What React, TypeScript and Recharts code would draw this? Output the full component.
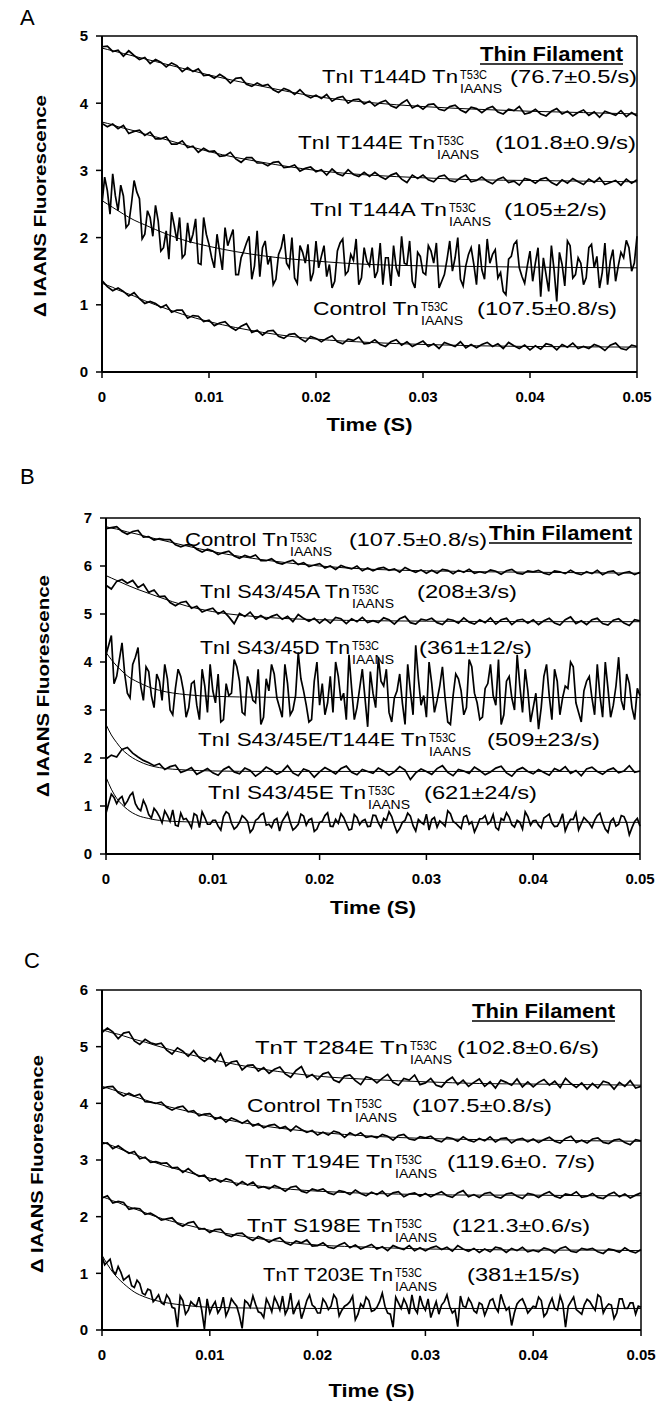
import React from "react";
import { LineChart, Line, XAxis, YAxis, ReferenceLine } from "recharts";

const FONT = '"Liberation Sans", Arial, sans-serif';

// sampling times of the traces (s)
const TIME = [
  0, 0.0005, 0.001, 0.0015, 0.002, 0.0025, 0.003, 0.0035, 0.004, 0.0045,
  0.005, 0.0055, 0.006, 0.0065, 0.007, 0.0075, 0.008, 0.0085, 0.009, 0.0095,
  0.01, 0.0105, 0.011, 0.0115, 0.012, 0.0125, 0.013, 0.0135, 0.014, 0.0145,
  0.015, 0.0155, 0.016, 0.0165, 0.017, 0.0175, 0.018, 0.0185, 0.019, 0.0195,
  0.02, 0.0205, 0.021, 0.0215, 0.022, 0.0225, 0.023, 0.0235, 0.024, 0.0245,
  0.025, 0.0255, 0.026, 0.0265, 0.027, 0.0275, 0.028, 0.0285, 0.029, 0.0295,
  0.03, 0.0305, 0.031, 0.0315, 0.032, 0.0325, 0.033, 0.0335, 0.034, 0.0345,
  0.035, 0.0355, 0.036, 0.0365, 0.037, 0.0375, 0.038, 0.0385, 0.039, 0.0395,
  0.04, 0.0405, 0.041, 0.0415, 0.042, 0.0425, 0.043, 0.0435, 0.044, 0.0445,
  0.045, 0.0455, 0.046, 0.0465, 0.047, 0.0475, 0.048, 0.0485, 0.049, 0.0495,
  0.05,
];
// extra in-between samples for the noisiest traces
const TIME_MID = [
  0.00025, 0.00075, 0.00125, 0.00175, 0.00225, 0.00275, 0.00325, 0.00375, 0.00425, 0.00475,
  0.00525, 0.00575, 0.00625, 0.00675, 0.00725, 0.00775, 0.00825, 0.00875, 0.00925, 0.00975,
  0.01025, 0.01075, 0.01125, 0.01175, 0.01225, 0.01275, 0.01325, 0.01375, 0.01425, 0.01475,
  0.01525, 0.01575, 0.01625, 0.01675, 0.01725, 0.01775, 0.01825, 0.01875, 0.01925, 0.01975,
  0.02025, 0.02075, 0.02125, 0.02175, 0.02225, 0.02275, 0.02325, 0.02375, 0.02425, 0.02475,
  0.02525, 0.02575, 0.02625, 0.02675, 0.02725, 0.02775, 0.02825, 0.02875, 0.02925, 0.02975,
  0.03025, 0.03075, 0.03125, 0.03175, 0.03225, 0.03275, 0.03325, 0.03375, 0.03425, 0.03475,
  0.03525, 0.03575, 0.03625, 0.03675, 0.03725, 0.03775, 0.03825, 0.03875, 0.03925, 0.03975,
  0.04025, 0.04075, 0.04125, 0.04175, 0.04225, 0.04275, 0.04325, 0.04375, 0.04425, 0.04475,
  0.04525, 0.04575, 0.04625, 0.04675, 0.04725, 0.04775, 0.04825, 0.04875, 0.04925, 0.04975,
];
const FIT_TIME = [
  0, 0.0005, 0.001, 0.0015, 0.002, 0.003, 0.004, 0.005, 0.0075, 0.01, 0.015,
  0.02, 0.025, 0.03, 0.035, 0.04, 0.045, 0.05,
];
const X_TICKS = [0, 0.01, 0.02, 0.03, 0.04, 0.05];
const A_TICKS = [0, 1, 2, 3, 4, 5];
const B_TICKS = [0, 1, 2, 3, 4, 5, 6, 7];
const C_TICKS = [0, 1, 2, 3, 4, 5, 6];

// ---- panel A ----
const A_T144D = [
  4.84, 4.85, 4.77, 4.79, 4.7, 4.78, 4.71, 4.65, 4.68, 4.59, 4.65,
  4.61, 4.54, 4.6, 4.56, 4.47, 4.53, 4.47, 4.51, 4.41, 4.42,
  4.37, 4.43, 4.38, 4.3, 4.37, 4.38, 4.28, 4.25, 4.3, 4.26,
  4.28, 4.2, 4.16, 4.22, 4.19, 4.13, 4.2, 4.12, 4.08, 4.12,
  4.07, 4.13, 4.03, 4.08, 4.1, 4.0, 4.05, 4.06, 3.99, 4.03,
  3.96, 4.01, 4.04, 3.96, 3.93, 4.0, 4.05, 3.93, 3.97, 3.91,
  3.98, 3.99, 3.91, 3.89, 3.95, 3.97, 3.9, 3.86, 3.94, 3.92,
  3.86, 3.92, 3.95, 3.87, 3.84, 3.91, 3.89, 3.95, 3.84, 3.86,
  3.91, 3.84, 3.81, 3.88, 3.92, 3.84, 3.88, 3.81, 3.86, 3.9,
  3.82, 3.87, 3.79, 3.88, 3.85, 3.82, 3.89, 3.8, 3.86, 3.81,
];
const A_T144E = [
  3.7, 3.65, 3.69, 3.62, 3.67, 3.55, 3.58, 3.6, 3.52, 3.57, 3.47,
  3.47, 3.5, 3.39, 3.39, 3.44, 3.34, 3.36, 3.27, 3.33, 3.28,
  3.29, 3.21, 3.22, 3.27, 3.17, 3.12, 3.19, 3.19, 3.11, 3.11,
  3.07, 3.12, 3.13, 3.04, 3.05, 3.08, 2.99, 3.03, 3.05, 2.98,
  3.01, 2.93, 3.02, 2.95, 2.92, 3.01, 2.94, 2.91, 2.97, 2.91,
  2.97, 2.91, 2.87, 2.93, 2.96, 2.87, 2.82, 2.93, 2.88, 2.93,
  2.86, 2.83, 2.91, 2.93, 2.85, 2.83, 2.89, 2.93, 2.83, 2.85,
  2.9, 2.84, 2.8, 2.87, 2.9, 2.82, 2.84, 2.78, 2.88, 2.86,
  2.81, 2.87, 2.89, 2.82, 2.78, 2.86, 2.81, 2.88, 2.83, 2.79,
  2.87, 2.82, 2.89, 2.79, 2.82, 2.85, 2.78, 2.87, 2.81, 2.86,
];
const A_T144A = [
  2.5, 2.7, 2.95, 2.4, 2.62, 2.2, 2.85, 2.58, 2.05, 2.3, 2.48,
  1.8, 2.1, 2.38, 1.95, 1.7, 2.22, 2.05, 1.62, 2.3, 1.9,
  1.55, 1.78, 2.15, 2.0, 1.45, 1.7, 1.92, 1.38, 2.1, 1.85,
  1.6, 1.3, 1.75, 2.05, 1.55, 1.4, 1.88, 1.62, 1.35, 1.95,
  1.72, 1.42, 1.25, 1.8, 1.98, 1.5, 1.66, 1.3, 1.85, 1.58,
  1.4, 1.92, 1.7, 1.28, 1.55, 2.02, 1.6, 1.35, 1.78, 1.48,
  1.88, 1.62, 1.25, 1.45, 1.95, 1.7, 1.38, 1.58, 1.85, 1.3,
  1.52, 1.98, 1.75, 1.4, 1.2, 1.68, 1.9, 1.55, 1.32, 1.8,
  1.62, 1.12, 1.45, 1.88, 1.05, 1.6, 1.95, 1.4, 1.7, 1.3,
  1.85, 1.55, 1.25, 1.92, 1.65, 1.35, 1.78, 1.96, 1.5, 2.02,
];
const A_T144A_MID = [
  2.9, 2.35, 2.62, 2.78, 2.15, 2.5, 2.68, 1.98, 2.4, 2.02,
  2.25, 1.85, 1.68, 2.18, 2.3, 1.75, 1.92, 2.28, 1.6, 2.05,
  1.7, 2.05, 1.52, 1.88, 2.12, 1.45, 1.8, 2.02, 1.58, 1.42,
  1.95, 1.72, 1.38, 1.85, 1.62, 2.0, 1.32, 1.78, 1.9, 1.48,
  1.55, 1.88, 1.6, 1.35, 1.92, 1.45, 1.75, 1.98, 1.4, 1.65,
  1.85, 1.5, 1.3, 1.7, 1.88, 1.42, 1.62, 1.95, 1.25, 1.72,
  1.45, 1.8, 1.92, 1.35, 1.68, 1.5, 2.0, 1.28, 1.75, 1.6,
  1.9, 1.38, 1.62, 1.82, 1.48, 1.15, 1.72, 1.95, 1.42, 1.58,
  1.35, 1.85, 1.7, 1.2, 1.52, 1.78, 1.28, 1.88, 1.45, 1.62,
  1.4, 1.9, 1.72, 1.48, 1.3, 1.82, 1.58, 1.7, 1.85, 1.62,
];
const A_CONTROL = [
  1.36, 1.27, 1.21, 1.25, 1.2, 1.13, 1.18, 1.09, 1.02, 1.05, 1.02,
  0.96, 1.0, 0.89, 0.92, 0.92, 0.8, 0.84, 0.83, 0.75, 0.77,
  0.69, 0.73, 0.75, 0.67, 0.62, 0.68, 0.72, 0.59, 0.62, 0.55,
  0.61, 0.62, 0.53, 0.5, 0.56, 0.57, 0.5, 0.45, 0.53, 0.5,
  0.45, 0.5, 0.54, 0.45, 0.42, 0.49, 0.47, 0.52, 0.42, 0.43,
  0.48, 0.41, 0.38, 0.45, 0.48, 0.4, 0.45, 0.38, 0.42, 0.46,
  0.38, 0.42, 0.35, 0.44, 0.41, 0.38, 0.45, 0.36, 0.41, 0.36,
  0.41, 0.44, 0.38, 0.42, 0.35, 0.44, 0.39, 0.35, 0.4, 0.33,
  0.39, 0.34, 0.42, 0.4, 0.33, 0.41, 0.37, 0.43, 0.35, 0.38,
  0.35, 0.41, 0.38, 0.32, 0.4, 0.43, 0.35, 0.33, 0.4, 0.38,
];
const A_T144D_FIT = [4.82, 4.8, 4.78, 4.76, 4.74, 4.7, 4.66, 4.62, 4.52, 4.42, 4.25, 4.1, 4.01, 3.95, 3.91, 3.88, 3.86, 3.84];
const A_T144E_FIT = [3.72, 3.7, 3.68, 3.65, 3.63, 3.59, 3.54, 3.5, 3.39, 3.28, 3.12, 3.0, 2.93, 2.89, 2.86, 2.85, 2.84, 2.83];
const A_T144A_FIT = [2.55, 2.5, 2.45, 2.4, 2.35, 2.26, 2.19, 2.12, 1.97, 1.87, 1.73, 1.65, 1.6, 1.58, 1.57, 1.56, 1.555, 1.55];
const A_CONTROL_FIT = [1.32, 1.29, 1.26, 1.22, 1.19, 1.13, 1.06, 1.0, 0.86, 0.75, 0.59, 0.49, 0.44, 0.41, 0.39, 0.38, 0.375, 0.37];

// ---- panel B ----
const B_CONTROL = [
  6.78, 6.8, 6.82, 6.72, 6.66, 6.72, 6.74, 6.6, 6.61, 6.54, 6.57,
  6.55, 6.55, 6.44, 6.4, 6.44, 6.44, 6.35, 6.29, 6.35, 6.31,
  6.24, 6.28, 6.31, 6.21, 6.16, 6.22, 6.18, 6.23, 6.11, 6.11,
  6.15, 6.07, 6.04, 6.09, 6.12, 6.03, 6.07, 5.99, 6.02, 6.05,
  5.96, 6.0, 5.93, 6.01, 5.97, 5.94, 6.0, 5.9, 5.96, 5.9,
  5.95, 5.97, 5.91, 5.94, 5.87, 5.97, 5.91, 5.87, 5.92, 5.85,
  5.91, 5.85, 5.93, 5.91, 5.84, 5.91, 5.87, 5.93, 5.85, 5.88,
  5.85, 5.92, 5.89, 5.83, 5.9, 5.93, 5.85, 5.83, 5.9, 5.88,
  5.91, 5.85, 5.82, 5.9, 5.88, 5.84, 5.91, 5.85, 5.82, 5.88,
  5.84, 5.91, 5.82, 5.88, 5.9, 5.81, 5.86, 5.88, 5.82, 5.87,
];
const B_S4345A = [
  5.6, 5.52, 5.68, 5.72, 5.64, 5.7, 5.55, 5.62, 5.45, 5.5, 5.36,
  5.37, 5.24, 5.17, 5.24, 5.26, 5.12, 5.16, 5.04, 5.09, 5.12,
  5.0, 5.06, 4.94, 4.8, 5.01, 4.95, 5.04, 4.9, 4.97, 4.89,
  4.95, 4.99, 4.89, 4.95, 4.84, 4.99, 4.91, 4.85, 4.91, 4.81,
  4.9, 4.81, 4.93, 4.9, 4.8, 4.9, 4.84, 4.93, 4.82, 4.86,
  4.82, 4.92, 4.88, 4.79, 4.9, 4.95, 4.82, 4.79, 4.89, 4.87,
  4.91, 4.82, 4.78, 4.89, 4.87, 4.81, 4.92, 4.83, 4.79, 4.88,
  4.82, 4.92, 4.79, 4.88, 4.91, 4.78, 4.87, 4.89, 4.81, 4.88,
  4.78, 4.86, 4.91, 4.81, 4.77, 4.88, 4.94, 4.8, 4.86, 4.78,
  4.88, 4.91, 4.8, 4.77, 4.87, 4.9, 4.81, 4.76, 4.88, 4.86,
];
const B_S4345D = [
  4.15, 4.55, 3.7, 4.4, 3.35, 3.95, 4.3, 3.2, 3.8, 3.05, 3.6,
  3.95, 3.0, 3.45, 3.7, 2.85, 3.55, 3.1, 3.85, 2.95, 3.4,
  3.75, 2.8, 3.3, 4.05, 3.6, 2.9, 3.5, 3.15, 2.7, 3.65,
  3.95, 3.25, 2.85, 3.55, 3.0, 4.2, 3.4, 2.75, 3.6, 3.1,
  2.9, 3.7, 4.0, 3.2, 2.8, 3.45, 3.05, 3.85, 2.65, 3.35,
  4.1, 3.5, 2.95, 3.25, 3.75, 2.7, 3.4, 4.35, 3.1, 2.85,
  3.55, 3.2, 3.9, 2.75, 3.3, 3.65, 2.9, 4.05, 3.35, 2.8,
  3.45, 3.95, 3.1, 2.7, 3.6, 3.25, 4.15, 2.95, 3.4, 3.05,
  2.6, 3.7, 3.3, 3.85, 2.9, 3.5, 4.0, 3.15, 2.75, 3.6,
  3.25, 3.95, 2.85, 3.45, 3.1, 4.1, 3.0, 3.55, 2.8, 3.3,
];
const B_S4345D_MID = [
  4.35, 3.55, 4.05, 3.75, 3.25, 4.1, 3.5, 3.9, 3.3, 3.75,
  3.2, 3.65, 2.9, 3.85, 3.4, 3.05, 3.6, 2.8, 3.5, 3.95,
  3.15, 2.75, 3.55, 3.35, 3.9, 2.95, 3.7, 3.2, 3.85, 2.85,
  3.4, 3.75, 3.05, 3.95, 2.9, 3.3, 3.65, 3.1, 2.8, 4.0,
  3.55, 3.15, 2.95, 3.7, 3.35, 4.15, 2.8, 3.45, 3.25, 3.8,
  3.05, 3.6, 3.85, 2.75, 3.4, 3.15, 3.95, 2.9, 3.65, 3.3,
  4.0, 2.95, 3.5, 3.25, 2.7, 3.75, 3.4, 3.05, 3.9, 3.15,
  2.85, 3.55, 3.3, 4.05, 2.9, 3.7, 3.0, 3.5, 3.85, 2.75,
  3.35, 3.05, 3.95, 2.8, 3.6, 3.25, 3.45, 3.9, 2.95, 3.4,
  3.7, 2.9, 3.3, 4.0, 2.85, 3.5, 3.2, 3.75, 3.05, 3.45,
];
const B_S4345E_T144E = [
  1.98, 2.06, 2.02, 2.18, 2.22, 2.1, 2.02, 1.95, 1.9, 1.84, 1.88,
  1.76, 1.82, 1.85, 1.7, 1.74, 1.8, 1.66, 1.72, 1.78, 1.69,
  1.64, 1.76, 1.82, 1.71, 1.67, 1.79, 1.74, 1.62, 1.7, 1.81,
  1.75, 1.66, 1.72, 1.84, 1.69, 1.63, 1.77, 1.73, 1.6, 1.71,
  1.8, 1.74, 1.67, 1.78, 1.83, 1.7, 1.65, 1.76, 1.72, 1.68,
  1.79, 1.73, 1.64, 1.71, 1.82, 1.75, 1.55, 1.69, 1.77, 1.72,
  1.66, 1.78, 1.84, 1.7, 1.63, 1.76, 1.73, 1.68, 1.81, 1.74,
  1.65, 1.71, 1.79, 1.83, 1.69, 1.62, 1.75, 1.8, 1.72, 1.67,
  1.76, 1.7, 1.64, 1.78, 1.73, 1.82, 1.68, 1.74, 1.63, 1.77,
  1.81, 1.72, 1.66, 1.75, 1.79, 1.69, 1.73, 1.84, 1.7, 1.73,
];
const B_S4345E = [
  0.85, 1.25, 1.05, 1.2, 1.1, 1.28, 0.95, 1.12, 0.82, 0.95, 0.78,
  0.9, 0.68, 0.6, 0.85, 0.74, 0.55, 0.8, 0.88, 0.62, 0.7,
  0.58, 0.78, 0.84, 0.52, 0.66, 0.75, 0.45, 0.7, 0.82, 0.6,
  0.55, 0.74, 0.68, 0.86, 0.5, 0.62, 0.79, 0.71, 0.47, 0.66,
  0.8, 0.58, 0.72, 0.84, 0.63, 0.52, 0.76, 0.69, 0.57, 0.81,
  0.65, 0.74, 0.88, 0.6, 0.53, 0.7, 0.79, 0.48, 0.66, 0.83,
  0.72, 0.56, 0.64, 0.9, 0.68, 0.58, 0.77, 0.62, 0.46, 0.73,
  0.8, 0.67, 0.55, 0.74, 0.86, 0.61, 0.7, 0.52, 0.78, 0.69,
  0.6, 0.75, 0.83, 0.57, 0.68, 0.48, 0.72, 0.86, 0.63, 0.7,
  0.55, 0.8, 0.66, 0.45, 0.74, 0.62, 0.78, 0.4, 0.68, 0.58,
];
const B_S4345E_MID = [
  1.05, 1.18, 1.15, 1.02, 1.22, 1.05, 0.9, 1.0, 0.75, 0.88,
  0.65, 0.8, 0.92, 0.58, 0.72, 0.66, 0.84, 0.55, 0.76, 0.62,
  0.7, 0.5, 0.88, 0.64, 0.57, 0.8, 0.68, 0.52, 0.74, 0.85,
  0.62, 0.7, 0.48, 0.77, 0.66, 0.55, 0.83, 0.6, 0.74, 0.52,
  0.68, 0.86, 0.57, 0.64, 0.76, 0.5, 0.82, 0.61, 0.72, 0.58,
  0.8, 0.55, 0.7, 0.78, 0.45, 0.66, 0.85, 0.59, 0.72, 0.62,
  0.5, 0.76, 0.69, 0.58, 0.84, 0.64, 0.53, 0.8, 0.67, 0.58,
  0.74, 0.62, 0.82, 0.5, 0.7, 0.77, 0.56, 0.66, 0.88, 0.6,
  0.7, 0.54, 0.79, 0.65, 0.58, 0.84, 0.62, 0.72, 0.5, 0.76,
  0.64, 0.7, 0.85, 0.52, 0.68, 0.58, 0.8, 0.65, 0.55, 0.74,
];
const B_CONTROL_FIT = [6.82, 6.79, 6.77, 6.74, 6.71, 6.66, 6.6, 6.55, 6.42, 6.3, 6.12, 6.0, 5.93, 5.9, 5.88, 5.87, 5.86, 5.85];
const B_S4345A_FIT = [5.8, 5.75, 5.7, 5.65, 5.6, 5.51, 5.43, 5.35, 5.17, 5.05, 4.93, 4.88, 4.86, 4.85, 4.845, 4.84, 4.84, 4.84];
const B_S4345D_FIT = [4.2, 4.05, 3.92, 3.81, 3.71, 3.58, 3.48, 3.41, 3.32, 3.285, 3.265, 3.26, 3.26, 3.26, 3.26, 3.26, 3.26, 3.26];
const B_S4345E_T144E_FIT = [2.7, 2.48, 2.32, 2.18, 2.08, 1.94, 1.85, 1.8, 1.75, 1.73, 1.72, 1.72, 1.72, 1.72, 1.72, 1.72, 1.72, 1.72];
const B_S4345E_FIT = [1.6, 1.35, 1.16, 1.03, 0.93, 0.8, 0.74, 0.7, 0.67, 0.66, 0.66, 0.66, 0.66, 0.66, 0.66, 0.66, 0.66, 0.66];

// ---- panel C ----
const C_T284E = [
  5.25, 5.33, 5.26, 5.14, 5.24, 5.26, 5.1, 5.04, 5.13, 5.07, 5.04,
  5.06, 4.94, 4.87, 4.98, 4.92, 4.83, 4.93, 4.81, 4.74, 4.81,
  4.73, 4.88, 4.66, 4.73, 4.75, 4.59, 4.67, 4.68, 4.57, 4.63,
  4.53, 4.6, 4.64, 4.52, 4.46, 4.58, 4.65, 4.46, 4.51, 4.42,
  4.52, 4.55, 4.41, 4.37, 4.48, 4.5, 4.4, 4.33, 4.47, 4.44,
  4.36, 4.44, 4.51, 4.37, 4.32, 4.44, 4.41, 4.5, 4.33, 4.36,
  4.44, 4.32, 4.29, 4.4, 4.46, 4.33, 4.41, 4.3, 4.37, 4.43,
  4.3, 4.38, 4.27, 4.41, 4.37, 4.32, 4.43, 4.29, 4.38, 4.29,
  4.37, 4.42, 4.32, 4.39, 4.28, 4.44, 4.35, 4.28, 4.36, 4.25,
  4.35, 4.27, 4.39, 4.36, 4.25, 4.37, 4.3, 4.4, 4.27, 4.3,
];
const C_CONTROL = [
  4.26, 4.29, 4.3, 4.19, 4.13, 4.18, 4.13, 4.16, 4.03, 4.02, 4.0,
  4.02, 3.93, 3.88, 3.93, 3.95, 3.85, 3.87, 3.78, 3.81, 3.82,
  3.72, 3.76, 3.67, 3.74, 3.7, 3.65, 3.7, 3.6, 3.64, 3.57,
  3.61, 3.63, 3.56, 3.59, 3.51, 3.6, 3.54, 3.49, 3.52, 3.44,
  3.49, 3.44, 3.51, 3.48, 3.4, 3.48, 3.43, 3.48, 3.4, 3.42,
  3.39, 3.45, 3.42, 3.35, 3.43, 3.45, 3.37, 3.35, 3.41, 3.39,
  3.42, 3.35, 3.32, 3.4, 3.38, 3.33, 3.41, 3.35, 3.32, 3.38,
  3.34, 3.41, 3.32, 3.38, 3.39, 3.3, 3.36, 3.38, 3.32, 3.37,
  3.31, 3.36, 3.4, 3.33, 3.3, 3.38, 3.42, 3.31, 3.35, 3.3,
  3.37, 3.39, 3.31, 3.29, 3.35, 3.37, 3.31, 3.27, 3.36, 3.34,
];
const C_T194E = [
  3.29, 3.3, 3.2, 3.25, 3.18, 3.12, 3.15, 3.02, 3.05, 2.96, 2.97,
  2.94, 2.95, 2.86, 2.87, 2.78, 2.85, 2.77, 2.71, 2.73, 2.63,
  2.67, 2.61, 2.67, 2.64, 2.55, 2.62, 2.56, 2.61, 2.51, 2.53,
  2.49, 2.55, 2.51, 2.45, 2.52, 2.54, 2.45, 2.42, 2.49, 2.46,
  2.49, 2.42, 2.39, 2.46, 2.44, 2.39, 2.47, 2.41, 2.37, 2.43,
  2.39, 2.45, 2.36, 2.42, 2.44, 2.35, 2.4, 2.42, 2.36, 2.41,
  2.35, 2.4, 2.44, 2.37, 2.34, 2.42, 2.46, 2.35, 2.39, 2.34,
  2.41, 2.43, 2.35, 2.33, 2.4, 2.42, 2.36, 2.32, 2.41, 2.39,
  2.34, 2.4, 2.44, 2.36, 2.33, 2.4, 2.38, 2.44, 2.34, 2.36,
  2.41, 2.34, 2.32, 2.39, 2.43, 2.35, 2.4, 2.33, 2.38, 2.42,
];
const C_S198E = [
  2.33, 2.37, 2.24, 2.27, 2.25, 2.13, 2.15, 2.14, 2.04, 2.06, 2.01,
  1.94, 1.96, 1.98, 1.88, 1.83, 1.89, 1.91, 1.78, 1.79, 1.72,
  1.77, 1.78, 1.68, 1.65, 1.7, 1.71, 1.63, 1.58, 1.65, 1.61,
  1.55, 1.6, 1.63, 1.54, 1.5, 1.57, 1.54, 1.59, 1.48, 1.49,
  1.54, 1.46, 1.44, 1.5, 1.54, 1.45, 1.5, 1.43, 1.47, 1.51,
  1.43, 1.47, 1.4, 1.49, 1.45, 1.42, 1.49, 1.4, 1.45, 1.4,
  1.45, 1.48, 1.42, 1.46, 1.39, 1.49, 1.43, 1.39, 1.44, 1.37,
  1.43, 1.38, 1.46, 1.44, 1.37, 1.44, 1.4, 1.46, 1.38, 1.41,
  1.38, 1.45, 1.42, 1.36, 1.44, 1.47, 1.39, 1.37, 1.44, 1.42,
  1.44, 1.38, 1.35, 1.43, 1.41, 1.37, 1.45, 1.39, 1.36, 1.42,
];
const C_T203E = [
  1.3, 1.2, 1.05, 1.12, 0.88, 0.96, 0.75, 0.82, 0.62, 0.7, 0.55,
  0.48, 0.62, 0.4, 0.05, 0.52, 0.35, 0.45, 0.58, 0.02, 0.3,
  0.5, 0.38, 0.25, 0.55, 0.42, 0.03, 0.48, 0.6, 0.32, 0.22,
  0.45, 0.58, 0.35, 0.28, 0.65, 0.4, 0.2, 0.52, 0.44, 0.3,
  0.55, 0.36, 0.62, 0.25, 0.42, 0.5, 0.18, 0.46, 0.58, 0.33,
  0.4, 0.65, 0.3, 0.05, 0.48, 0.55, 0.28, 0.38, 0.6, 0.35,
  0.22, 0.5, 0.44, 0.62, 0.3, 0.06, 0.42, 0.56, 0.34, 0.48,
  0.26, 0.52, 0.4, 0.63, 0.35, 0.08, 0.46, 0.55, 0.3, 0.42,
  0.58, 0.24, 0.45, 0.38, 0.6, 0.05, 0.5, 0.36, 0.28, 0.54,
  0.42, 0.62, 0.3, 0.46, 0.2, 0.55, 0.38, 0.48, 0.28, 0.4,
];
const C_T203E_MID = [
  1.15, 1.25, 0.98, 1.02, 0.92, 0.78, 0.88, 0.65, 0.72, 0.5,
  0.62, 0.45, 0.55, 0.38, 0.6, 0.28, 0.5, 0.42, 0.35, 0.55,
  0.42, 0.3, 0.58, 0.36, 0.48, 0.25, 0.52, 0.4, 0.45, 0.3,
  0.55, 0.32, 0.48, 0.6, 0.38, 0.28, 0.5, 0.35, 0.62, 0.4,
  0.3, 0.48, 0.42, 0.55, 0.35, 0.45, 0.6, 0.28, 0.4, 0.52,
  0.35, 0.5, 0.42, 0.28, 0.58, 0.38, 0.45, 0.62, 0.3, 0.44,
  0.55, 0.36, 0.28, 0.5, 0.42, 0.35, 0.6, 0.4, 0.48, 0.3,
  0.45, 0.38, 0.55, 0.32, 0.48, 0.4, 0.3, 0.52, 0.44, 0.36,
  0.4, 0.52, 0.3, 0.56, 0.35, 0.46, 0.42, 0.58, 0.32, 0.45,
  0.5, 0.35, 0.58, 0.4, 0.44, 0.3, 0.55, 0.38, 0.48, 0.42,
];
const C_T284E_FIT = [5.3, 5.27, 5.24, 5.22, 5.19, 5.13, 5.08, 5.02, 4.89, 4.78, 4.6, 4.48, 4.42, 4.38, 4.35, 4.34, 4.33, 4.32];
const C_CONTROL_FIT = [4.3, 4.27, 4.24, 4.21, 4.18, 4.12, 4.06, 4.0, 3.88, 3.77, 3.6, 3.49, 3.42, 3.38, 3.36, 3.35, 3.34, 3.33];
const C_T194E_FIT = [3.32, 3.28, 3.25, 3.21, 3.17, 3.1, 3.03, 2.95, 2.81, 2.68, 2.53, 2.45, 2.41, 2.39, 2.38, 2.38, 2.37, 2.37];
const C_S198E_FIT = [2.35, 2.32, 2.28, 2.25, 2.21, 2.14, 2.07, 2.0, 1.87, 1.76, 1.6, 1.5, 1.46, 1.43, 1.42, 1.41, 1.41, 1.4];
const C_T203E_FIT = [1.32, 1.16, 1.02, 0.91, 0.82, 0.67, 0.58, 0.52, 0.44, 0.4, 0.385, 0.38, 0.38, 0.38, 0.38, 0.38, 0.38, 0.38];

// annotation texts
const SUP = "T53C";
const SUB = "IAANS";
const A_NAMES = ["TnI T144D Tn", "TnI T144E Tn", "TnI T144A Tn", "Control Tn"];
const A_RATES = ["(76.7±0.5/s)", "(101.8±0.9/s)", "(105±2/s)", "(107.5±0.8/s)"];
const B_NAMES = ["Control Tn", "TnI S43/45A Tn", "TnI S43/45D Tn", "TnI S43/45E/T144E Tn", "TnI S43/45E Tn"];
const B_RATES = ["(107.5±0.8/s)", "(208±3/s)", "(361±12/s)", "(509±23/s)", "(621±24/s)"];
const C_NAMES = ["TnT T284E Tn", "Control Tn", "TnT T194E Tn", "TnT S198E Tn", "TnT T203E Tn"];
const C_RATES = ["(102.8±0.6/s)", "(107.5±0.8/s)", "(119.6±0. 7/s)", "(121.3±0.6/s)", "(381±15/s)"];

// text placement (page pixels)
const A_POS = [
  { x0: 322, xs: 460, xr: 510, xe: 637, y: 83 },
  { x0: 298, xs: 437, xr: 495, xe: 636, y: 149 },
  { x0: 310, xs: 449, xr: 504, xe: 607, y: 216 },
  { x0: 313, xs: 421, xr: 477, xe: 617, y: 315 },
];
const B_POS = [
  { x0: 185, xs: 290, xr: 349, xe: 487, y: 546 },
  { x0: 200, xs: 352, xr: 417, xe: 517, y: 598 },
  { x0: 200, xs: 352, xr: 419, xe: 532, y: 654 },
  { x0: 198, xs: 429, xr: 487, xe: 600, y: 746 },
  { x0: 208, xs: 368, xr: 424, xe: 537, y: 799 },
];
const C_POS = [
  { x0: 255, xs: 410, xr: 457, xe: 599, y: 1054 },
  { x0: 247, xs: 355, xr: 412, xe: 552, y: 1112 },
  { x0: 245, xs: 395, xr: 447, xe: 595, y: 1168 },
  { x0: 247, xs: 395, xr: 452, xe: 590, y: 1232 },
  { x0: 263, xs: 395, xr: 467, xe: 580, y: 1281 },
];

type Row = { t: number; v: number };
const rows = (xs: number[], ys: number[]): Row[] => xs.map((t, i) => ({ t, v: ys[i] }));
const merged = (ys: number[], mid: number[]): Row[] =>
  rows(TIME, ys).concat(rows(TIME_MID, mid)).sort((a, b) => a.t - b.t);

const TICK_STYLE = { fill: "#000", fontSize: 15, fontWeight: 700, fontFamily: FONT };

type Margin = { top: number; right: number; bottom: number; left: number };

const Panel = ({
  top,
  height,
  margin,
  yMax,
  yTicks,
  traces,
  fits,
}: {
  top: number;
  height: number;
  margin: Margin;
  yMax: number;
  yTicks: number[];
  traces: Row[][];
  fits: number[][];
}) => (
  <div style={{ position: "absolute", left: 0, top }}>
    <LineChart width={664} height={height} margin={margin}>
      <XAxis
        dataKey="t"
        type="number"
        domain={[0, 0.05]}
        ticks={X_TICKS}
        interval={0}
        tickFormatter={(v: number) => String(v)}
        height={30}
        tickSize={6}
        tickMargin={13}
        axisLine={{ stroke: "#000", strokeWidth: 2 }}
        tickLine={{ stroke: "#000", strokeWidth: 1.5 }}
        tick={TICK_STYLE}
      />
      <YAxis
        type="number"
        domain={[0, yMax]}
        ticks={yTicks}
        interval={0}
        width={60}
        tickSize={6}
        tickMargin={8}
        axisLine={{ stroke: "#000", strokeWidth: 2 }}
        tickLine={{ stroke: "#000", strokeWidth: 1.5 }}
        tick={TICK_STYLE}
      />
      <ReferenceLine y={yMax} stroke="#000" strokeWidth={1.5} />
      <ReferenceLine x={0.05} stroke="#000" strokeWidth={1.5} />
      {traces.map((data, i) => (
        <Line
          key={`trace-${i}`}
          data={data}
          dataKey="v"
          type="linear"
          stroke="#000"
          strokeWidth={1.7}
          dot={false}
          isAnimationActive={false}
        />
      ))}
      {fits.map((ys, i) => (
        <Line
          key={`fit-${i}`}
          data={rows(FIT_TIME, ys)}
          dataKey="v"
          type="monotone"
          stroke="#000"
          strokeWidth={1}
          dot={false}
          isAnimationActive={false}
        />
      ))}
    </LineChart>
  </div>
);

type Pos = { x0: number; xs: number; xr: number; xe: number; y: number };

const Annotation = ({ name, rate, pos }: { name: string; rate: string; pos: Pos }) => (
  <g>
    <text x={pos.x0} y={pos.y} fontSize={17.5} textLength={pos.xs - pos.x0 - 2} lengthAdjust="spacingAndGlyphs">
      {name}
    </text>
    <text x={pos.xs} y={pos.y - 4} fontSize={12.5} textLength={27} lengthAdjust="spacingAndGlyphs">
      {SUP}
    </text>
    <text x={pos.xs} y={pos.y + 10} fontSize={12.5} textLength={42} lengthAdjust="spacingAndGlyphs">
      {SUB}
    </text>
    <text x={pos.xr} y={pos.y} fontSize={17.5} textLength={pos.xe - pos.xr} lengthAdjust="spacingAndGlyphs">
      {rate}
    </text>
  </g>
);

const ThinFilament = ({ x, xe, y }: { x: number; xe: number; y: number }) => (
  <g>
    <text x={x} y={y} fontSize={20} fontWeight={700} textLength={xe - x} lengthAdjust="spacingAndGlyphs">
      Thin Filament
    </text>
    <line x1={x} x2={xe} y1={y + 3} y2={y + 3} stroke="#000" strokeWidth={1.5} />
  </g>
);

const YTitle = ({ x, cy, len }: { x: number; cy: number; len: number }) => (
  <text
    transform={`translate(${x},${cy}) rotate(-90)`}
    x={-len / 2}
    y={6}
    fontSize={17}
    fontWeight={700}
    textLength={len}
    lengthAdjust="spacingAndGlyphs"
  >
    Δ IAANS Fluorescence
  </text>
);

const XTitle = ({ cx, y }: { cx: number; y: number }) => (
  <text x={cx - 43} y={y} fontSize={18} fontWeight={700} textLength={86} lengthAdjust="spacingAndGlyphs">
    Time (S)
  </text>
);

export default function App() {
  return (
    <div style={{ position: "absolute", left: 0, top: 0, width: 664, height: 1411, background: "#fff" }}>
      <Panel
        top={0}
        height={460}
        margin={{ top: 36, right: 27, bottom: 58, left: 42 }}
        yMax={5}
        yTicks={A_TICKS}
        traces={[
          rows(TIME, A_T144D),
          rows(TIME, A_T144E),
          merged(A_T144A, A_T144A_MID),
          rows(TIME, A_CONTROL),
        ]}
        fits={[A_T144D_FIT, A_T144E_FIT, A_T144A_FIT, A_CONTROL_FIT]}
      />
      <Panel
        top={480}
        height={460}
        margin={{ top: 38, right: 24, bottom: 56, left: 46 }}
        yMax={7}
        yTicks={B_TICKS}
        traces={[
          rows(TIME, B_CONTROL),
          rows(TIME, B_S4345A),
          merged(B_S4345D, B_S4345D_MID),
          rows(TIME, B_S4345E_T144E),
          merged(B_S4345E, B_S4345E_MID),
        ]}
        fits={[B_CONTROL_FIT, B_S4345A_FIT, B_S4345D_FIT, B_S4345E_T144E_FIT, B_S4345E_FIT]}
      />
      <Panel
        top={960}
        height={451}
        margin={{ top: 30, right: 23, bottom: 51, left: 42 }}
        yMax={6}
        yTicks={C_TICKS}
        traces={[
          rows(TIME, C_T284E),
          rows(TIME, C_CONTROL),
          rows(TIME, C_T194E),
          rows(TIME, C_S198E),
          merged(C_T203E, C_T203E_MID),
        ]}
        fits={[C_T284E_FIT, C_CONTROL_FIT, C_T194E_FIT, C_S198E_FIT, C_T203E_FIT]}
      />
      <svg
        width={664}
        height={1411}
        style={{ position: "absolute", left: 0, top: 0, pointerEvents: "none" }}
        fontFamily={FONT}
        fill="#000"
      >
        <text x={20} y={25} fontSize={22}>A</text>
        <text x={20} y={484} fontSize={22}>B</text>
        <text x={24} y={968} fontSize={22}>C</text>

        <ThinFilament x={480} xe={623} y={61} />
        <ThinFilament x={489} xe={632} y={540} />
        <ThinFilament x={472} xe={615} y={1018} />

        {A_NAMES.map((n, i) => (
          <Annotation key={`a${i}`} name={n} rate={A_RATES[i]} pos={A_POS[i]} />
        ))}
        {B_NAMES.map((n, i) => (
          <Annotation key={`b${i}`} name={n} rate={B_RATES[i]} pos={B_POS[i]} />
        ))}
        {C_NAMES.map((n, i) => (
          <Annotation key={`c${i}`} name={n} rate={C_RATES[i]} pos={C_POS[i]} />
        ))}

        <YTitle x={40} cy={206} len={222} />
        <YTitle x={43} cy={686} len={222} />
        <YTitle x={37} cy={1164} len={218} />

        <XTitle cx={369.5} y={431} />
        <XTitle cx={373} y={914} />
        <XTitle cx={371.5} y={1397} />
      </svg>
    </div>
  );
}
